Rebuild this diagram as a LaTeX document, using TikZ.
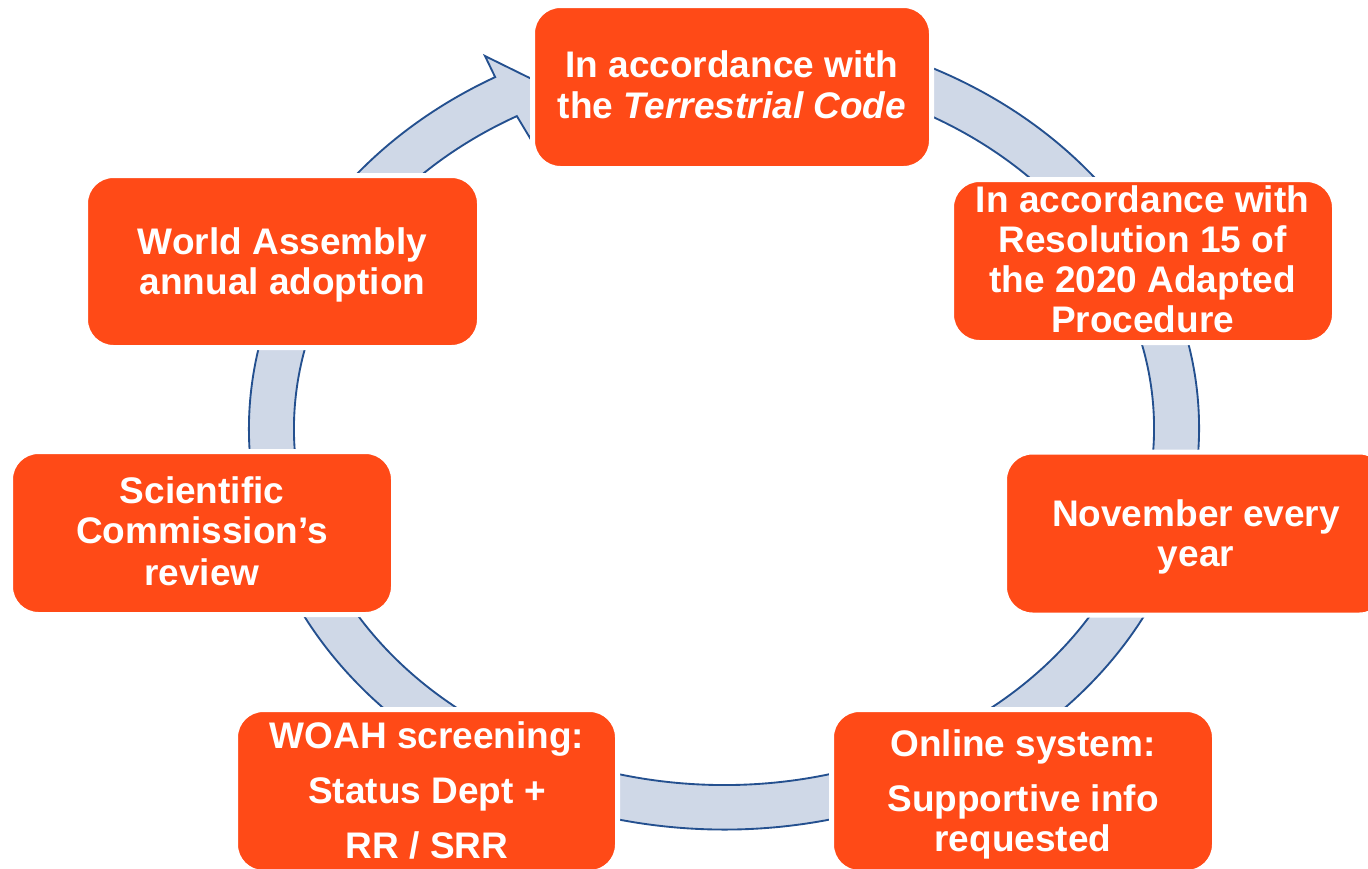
\documentclass[tikz,border=0pt]{standalone}
\usepackage{fontspec}
\setmainfont{Liberation Sans}
\usetikzlibrary{calc}
\definecolor{boxorange}{HTML}{FF4A17}
\definecolor{ringfill}{HTML}{CFD8E7}
\definecolor{ringedge}{HTML}{24508F}
\begin{document}
\begin{tikzpicture}[x=0.75pt,y=-0.75pt,
  box/.style={fill=boxorange, draw=white, line width=3.75pt, rounded corners=21pt, inner sep=0pt, outer sep=0pt},
  txt/.style={text=white, font=\fontsize{27.75pt}{31pt}\selectfont\bfseries, anchor=base, inner sep=0pt},
  ring/.style={fill=ringfill, draw=ringedge, line width=1.4pt, line join=miter}]
\useasboundingbox (0,0) rectangle (1368,868);
\clip (0,0) rectangle (1368,868);
\coordinate (C) at (724,428.5);
\coordinate (barbout) at (485,56);
\coordinate (tip) at (548,87);
\coordinate (barbin) at (530,138);
% ring arrow
\draw[ring] (C) ++(280:475 and 401)
  arc[start angle=280, end angle=601.2, x radius=475, y radius=401]
  -- (barbout) -- (tip) -- (barbin)
  -- ($(C)+(241.2:430 and 356.5)$)
  arc[start angle=601.2, end angle=280, x radius=430, y radius=356.5]
  -- cycle;
% boxes
\node[box, minimum width=399*0.75pt, minimum height=163*0.75pt] (b1) at (732,87) {};
\node[box, minimum width=383*0.75pt, minimum height=163*0.75pt] (b2) at (1143,261) {};
\node[box, minimum width=383*0.75pt, minimum height=163*0.75pt] (b3) at (1196,533.5) {};
\node[box, minimum width=383*0.75pt, minimum height=163*0.75pt] (b4) at (1023,791) {};
\node[box, minimum width=382*0.75pt, minimum height=163*0.75pt] (b5) at (426.5,791) {};
\node[box, minimum width=383*0.75pt, minimum height=163*0.75pt] (b6) at (202,533) {};
\node[box, minimum width=394*0.75pt, minimum height=172*0.75pt] (b7) at (282.5,261.5) {};
% texts
\node[txt] (t1a) at (732,77) {In accordance with};
\node[txt] (t1b) at (732,118) {the \textit{Terrestrial Code}};
\node[txt] (t2a) at (1142.5,212) {In accordance with};
\node[txt] (t2b) at (1142.5,252) {Resolution 15 of};
\node[txt] (t2c) at (1142.5,292) {the 2020 Adapted};
\node[txt] (t2d) at (1142.5,332) {Procedure};
\node[txt] (t3a) at (1196,526) {November every};
\node[txt] (t3b) at (1196,566) {year};
\node[txt] (t4a) at (1023,756) {Online system:};
\node[txt] (t4b) at (1023,811) {Supportive info};
\node[txt] (t4c) at (1023,851) {requested};
\node[txt] (t5a) at (427,748) {WOAH screening:};
\node[txt] (t5b) at (427,803) {Status Dept +};
\node[txt] (t5c) at (427,858) {RR / SRR};
\node[txt] (t6a) at (202,503) {Scientific};
\node[txt] (t6b) at (202,543) {Commission’s};
\node[txt] (t6c) at (202,585) {review};
\node[txt] (t7a) at (282.5,254) {World Assembly};
\node[txt] (t7b) at (282.5,294) {annual adoption};
\end{tikzpicture}
\end{document}
